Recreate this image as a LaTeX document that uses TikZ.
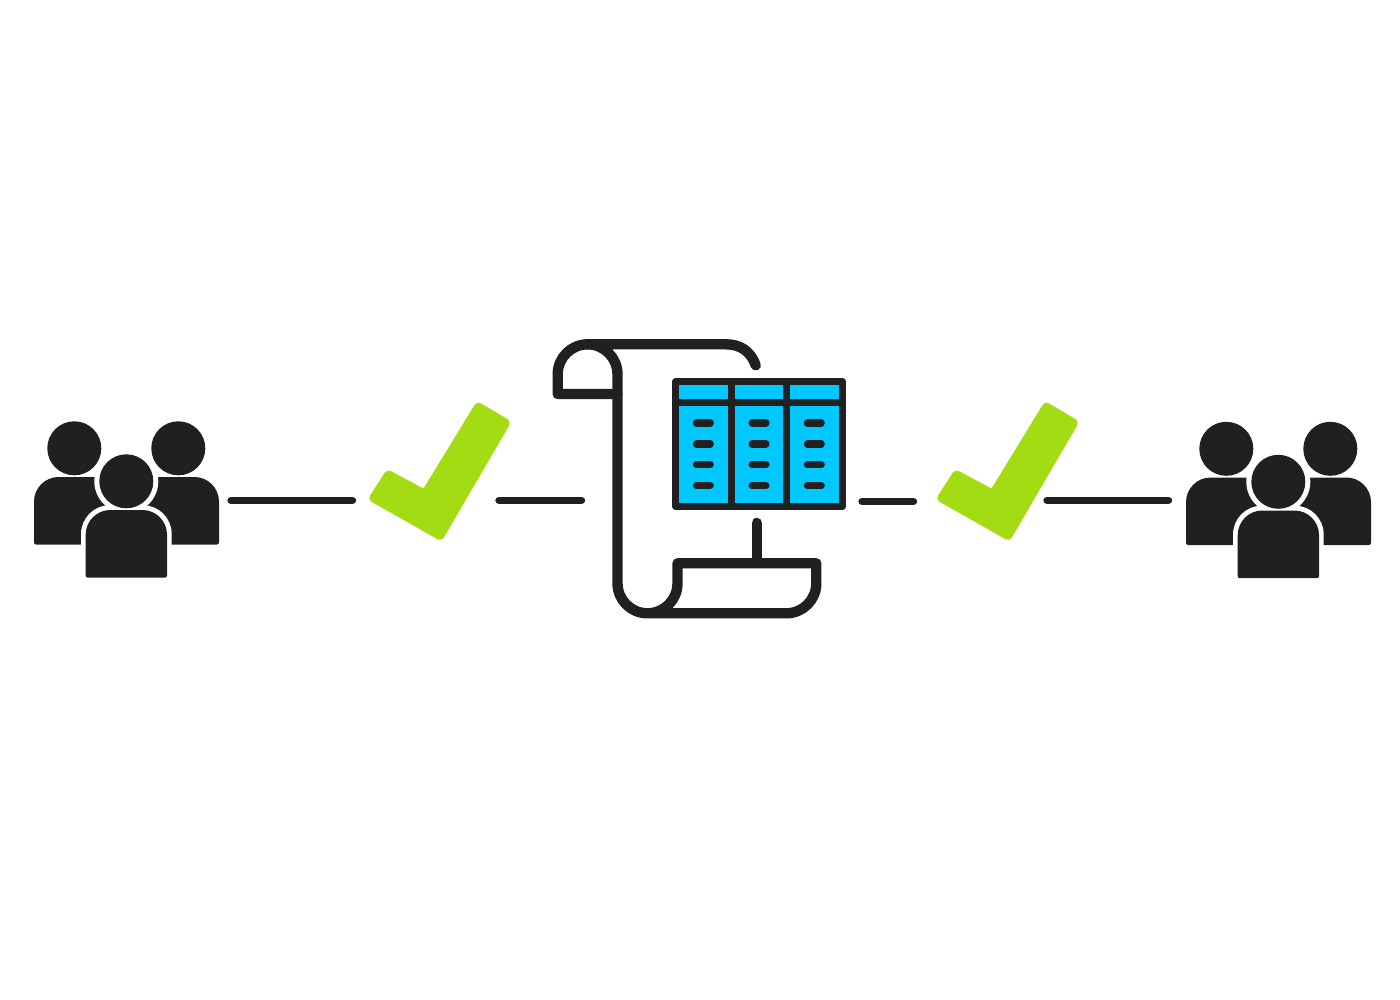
\documentclass[tikz,border=0pt]{standalone}
\usepackage{xcolor}
\usetikzlibrary{arrows.meta,positioning,calc}
\definecolor{ink}{RGB}{32,32,32}
\definecolor{tickgreen}{RGB}{164,220,20}
\definecolor{cellblue}{RGB}{0,200,255}
\tikzset{
  pics/crowd/.style={code={
    % back row
    \fill[ink] (74.3,448.3) circle[radius=27];
    \fill[ink] (178.3,448.3) circle[radius=27];
    \fill[ink,rounded corners=0.6pt] (80,544.5) -- (34,544.5) [rounded corners=7pt] -- (34,477) [sharp corners] -- (126,477) -- (126,544.5) -- cycle;
    \fill[ink,rounded corners=0.6pt] (173,544.5) -- (219,544.5) [rounded corners=7pt] -- (219,477) [sharp corners] -- (126,477) -- (126,544.5) -- cycle;
    % white ring, then front person
    \fill[white] (126.3,481.3) circle[radius=32];
    \fill[white,rounded corners=8.2pt] (81,590) -- (81,505.2) -- (171.7,505.2) -- (171.7,590) -- cycle;
    \fill[ink] (126.3,481.3) circle[radius=27];
    \fill[ink,rounded corners=0.6pt] (126,577.7) -- (85.7,577.7) [rounded corners=7pt] -- (85.7,510) -- (167,510) [rounded corners=0.6pt] -- (167,577.7) -- cycle;
  }},
  pics/tickmark/.style={code={
    \fill[tickgreen,rounded corners=1.3pt] (367.5,499.5) -- (387,469) [sharp corners] -- (423.5,488.5) [rounded corners=1.3pt] -- (477,401) -- (511.5,421.5) -- (441.5,541.5) -- cycle;
  }},
}
\begin{document}
\begin{tikzpicture}[
  x=0.01cm,y=-0.01cm,
  link/.style={draw=ink,line width=2.1pt,line cap=round},
  scrollline/.style={draw=ink,line width=2.95pt,line cap=round,line join=round},
  tablebox/.style={draw=ink,line width=2pt,fill=cellblue,line join=round,
                   minimum width=1.666cm,minimum height=1.25cm,inner sep=0pt},
  rule/.style={draw=ink,line width=2pt},
  slot/.style={draw=ink,line width=2pt,line cap=round},
]
\useasboundingbox (0,0) rectangle (1400,1000);
% People
\pic (crowdL) at (0,0) {crowd};
\pic (crowdR) at (1152,0.5) {crowd};
% Checks
\pic (tickL) at (0,0) {tickmark};
\pic (tickR) at (568,0) {tickmark};
% Scroll
\draw[scrollline] (755.7,365.3) .. controls (751,352) and (741,344.3) .. (726,344.3) -- (587.5,344.3)
  arc[start angle=270,end angle=360,radius=30] -- (617.5,583.3)
  arc[start angle=180,end angle=0,radius=30] -- (677.5,563.3) -- (816.3,563.3) -- (816.3,583.3)
  arc[start angle=0,end angle=90,radius=30] -- (647.5,613.3);
\draw[scrollline] (617.5,394) -- (557.7,394) -- (557.7,374.3)
  arc[start angle=180,end angle=270,radius=30];
\draw[scrollline] (756.7,523) -- (756.7,559);
% Table
\node[tablebox] (tbl) at (759,444) {};
\draw[rule] (675.7,402.3) -- (842.3,402.3);
\foreach \cx in {731.3,786.7}
  \draw[rule] (\cx,381.5) -- (\cx,506.5);
\foreach \cx in {703.3,759,814.3}
  \foreach \cy in {423,444,464.7,485.7}
    \draw[slot] (\cx-7,\cy) -- (\cx+7,\cy);
% Connectors
\coordinate (crowdLout) at (231,500.4);
\coordinate (tickLin) at (352.5,500.4);
\coordinate (tickLout) at (499,500.4);
\coordinate (scrollin) at (581.5,500.4);
\coordinate (tblout) at (862,501.4);
\coordinate (tickRin) at (913.5,501.4);
\coordinate (tickRout) at (1047,500.4);
\coordinate (crowdRin) at (1168.5,500.4);
\draw[link] (crowdLout) -- (tickLin);
\draw[link] (tickLout) -- (scrollin);
\draw[link] (tblout) -- (tickRin);
\draw[link] (tickRout) -- (crowdRin);
\end{tikzpicture}
\end{document}
